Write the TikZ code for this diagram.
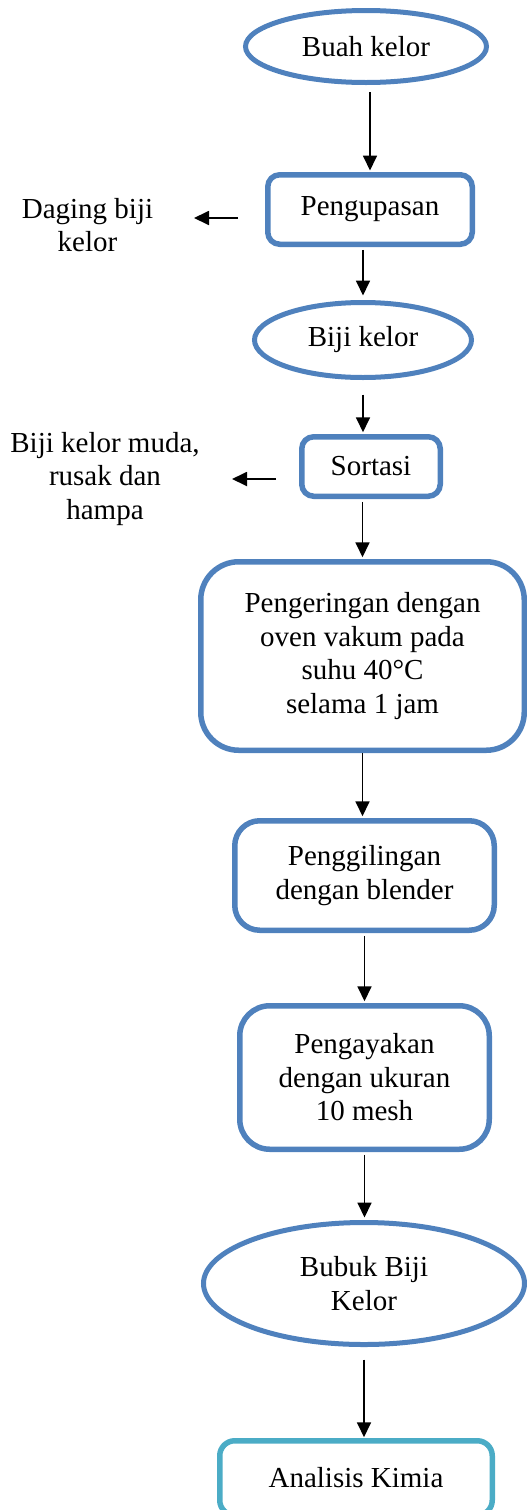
\documentclass[tikz,border=0pt]{standalone}
\usepackage{fontspec}
\setmainfont{Liberation Serif}
\usetikzlibrary{shapes.geometric,arrows.meta}
\definecolor{boxblue}{RGB}{79,129,189}
\definecolor{boxteal}{RGB}{75,172,198}
\begin{document}
\begin{tikzpicture}[x=1pt,y=-1pt,
  every node/.style={font=\fontsize{29}{33.5}\selectfont, inner sep=0pt, align=center},
  oval/.style={ellipse, draw=boxblue, line width=5pt},
  proc/.style={rectangle, draw=boxblue, line width=5.5pt},
  arr/.style={line width=1.8pt, -{Triangle[width=14pt,length=15pt]}},
]
\useasboundingbox (0,0) rectangle (527,1510);

\node[oval, minimum width=241pt, minimum height=72pt] (buah) at (366,46.5) {Buah kelor};
\node[proc, rounded corners=12pt, minimum width=204.5pt, minimum height=69.5pt] (kupas) at (370,209.5) {Pengupasan};
\node[oval, minimum width=217pt, minimum height=75pt] (biji) at (363,340) {Biji kelor};
\node[proc, rounded corners=12pt, minimum width=138.5pt, minimum height=59.5pt] (sort) at (371,466.5) {Sortasi};
\node[proc, rounded corners=38pt, minimum width=323.5pt, minimum height=188.5pt] (oven) at (362.5,656) {Pengeringan dengan\\oven vakum pada\\suhu 40°C\\selama 1 jam};
\node[proc, rounded corners=25pt, minimum width=259.5pt, minimum height=109.5pt] (giling) at (364.5,875.5) {Penggilingan\\dengan blender};
\node[proc, rounded corners=30pt, minimum width=249.5pt, minimum height=143.5pt] (ayak) at (364.5,1077.5) {Pengayakan\\dengan ukuran\\10 mesh};
\node[oval, minimum width=321pt, minimum height=122pt] (bubuk) at (364,1283.5) {Bubuk Biji\\Kelor};
\node[proc, draw=boxteal, rounded corners=15pt, minimum width=272.5pt, minimum height=74.5pt] (kimia) at (356,1478) {Analisis Kimia};

\node[anchor=north] (daging) at (87.5,198) {Daging biji\\kelor};
\node[anchor=north] (rusak) at (105,432) {Biji kelor muda,\\rusak dan\\hampa};

\draw[arr, shorten <=7pt, shorten >=1.5pt] (kupas.north |- buah.south) -- (kupas.north);
\draw[arr, shorten <=2.75pt, shorten >=4.5pt] (biji.north |- kupas.south) -- (biji.north);
\draw[arr, shorten <=14.5pt, shorten >=1.75pt] (biji.south) -- (biji.south |- sort.north);
\draw[arr, shorten <=2.75pt, shorten >=1.75pt] (oven.north |- sort.south) -- (oven.north);
\draw[arr, shorten >=1.75pt] (oven.south) -- (oven.south |- giling.north);
\draw[arr, shorten <=2.75pt, shorten >=1.75pt] (giling.south) -- (giling.south |- ayak.north);
\draw[arr, shorten <=2.75pt, shorten >=2.5pt] (ayak.south) -- (ayak.south |- bubuk.north);
\draw[arr, shorten <=12.5pt, shorten >=0.75pt] (bubuk.south) -- (bubuk.south |- kimia.north);

\coordinate (d1) at (238,218);
\coordinate (d2) at (194,218);
\draw[arr] (d1) -- (d2);
\coordinate (r1) at (276,479);
\coordinate (r2) at (232,479);
\draw[arr] (r1) -- (r2);
\end{tikzpicture}
\end{document}
